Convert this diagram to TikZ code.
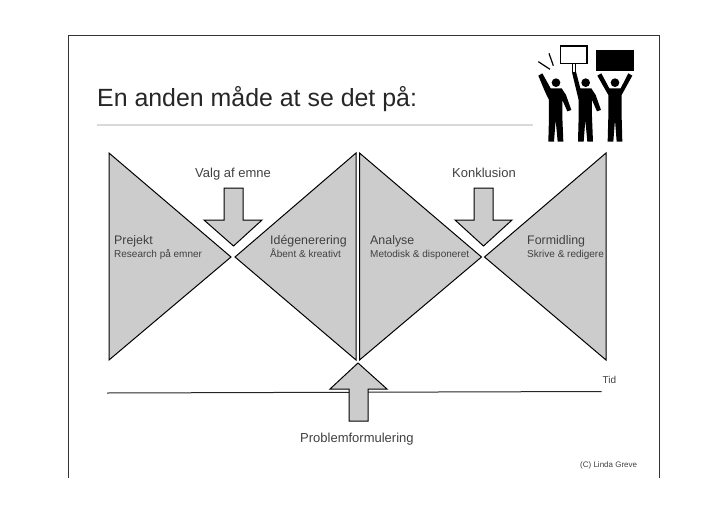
\documentclass[tikz,border=0pt]{standalone}
\usepackage{fontspec}
\setmainfont{Liberation Sans}
\tikzset{
  wedge/.style={draw=black,fill=black!20,line width=1pt,line join=miter},
  pil/.style={draw=black,fill=black!20,line width=1pt,line join=miter},
  txt/.style={anchor=base west,inner sep=0pt,text=black!75},
  stor/.style={txt,font=\fontsize{13}{15}\selectfont},
  mellem/.style={txt,font=\fontsize{12.4}{15}\selectfont},
  lille/.style={txt,font=\fontsize{10}{12}\selectfont},
  mand/.style={fill=black,draw=none}
}
\begin{document}
\begin{tikzpicture}[x=1pt,y=-1pt]
\useasboundingbox (0,0) rectangle (728,514);
\draw[line width=0.9pt,black!80] (68.5,478) -- (68.5,35) -- (659,35) -- (659,478);
\node[txt,font=\fontsize{24.9}{28}\selectfont,text=black!85] (titel) at (97,106) {En anden måde at se det på:};
\draw[line width=1.2pt,black!15] (97,125) -- (533,125);

\draw[wedge] (109,153) -- (231,257) -- (109,360) -- cycle;
\draw[wedge] (356,153) -- (235,257) -- (356,360) -- cycle;
\draw[wedge] (359.5,153) -- (481.5,257) -- (359.5,360) -- cycle;
\draw[wedge] (606,153) -- (484.5,257) -- (606,360) -- cycle;

\draw[pil] (224,188) -- (243,188) -- (243,220) -- (262,220) -- (233.5,246) -- (204,220) -- (224,220) -- cycle;
\draw[pil] (474,188) -- (493,188) -- (493,220) -- (512,220) -- (483.5,246) -- (455,220) -- (474,220) -- cycle;
\draw[line width=1pt,black!85] (107,393) -- (601.5,391.5);
\draw[pil] (349,421) -- (368,421) -- (368,389) -- (387,389) -- (358,363) -- (330,389) -- (349,389) -- cycle;

\node[stor] (valg) at (195,177) {Valg af emne};
\node[stor] (konklusion) at (452,177) {Konklusion};
\node[stor] (problem) at (300,442) {Problemformulering};
\node[mellem] (prejekt) at (114,244) {Prejekt};
\node[lille] (research) at (114,257) {Research på emner};
\node[mellem] (ide) at (270,244) {Idégenerering};
\node[lille] (aabent) at (270,257) {Åbent \& kreativt};
\node[mellem] (analyse) at (370,244) {Analyse};
\node[lille] (metodisk) at (370,257) {Metodisk \& disponeret};
\node[mellem] (formidling) at (527,244) {Formidling};
\node[lille] (skrive) at (527,257) {Skrive \& redigere};
\node[lille] (tid) at (602.5,383) {Tid};
\node[txt,font=\fontsize{8}{10}\selectfont] (copy) at (580,467) {(C) Linda Greve};

\begin{scope}[shift={(480,20)},x=0.3333pt,y=-0.3333pt]
\fill[mand] (228,188) circle (13);
\fill[mand] (175,167) -- (187,160) -- (212,205) -- (245,205) -- (258,225) -- (274,270) -- (262,274) -- (247,240) -- (247,290) -- (250,365) -- (233,365) -- (227,300) -- (222,365) -- (205,365) -- (207,290) -- (207,240) -- (195,215) -- cycle;
\draw[line width=1.2pt,line cap=butt] (175,125) -- (210,148);
\draw[line width=1.2pt] (207,100) -- (220,137);
\fill[mand] (317,188) circle (13);
\fill[mand] (276,157) -- (288,155) -- (301,205) -- (334,205) -- (347,225) -- (363,270) -- (351,274) -- (336,240) -- (336,290) -- (339,365) -- (322,365) -- (316,300) -- (311,365) -- (294,365) -- (296,290) -- (296,240) -- cycle;
\draw[line width=1.2pt,fill=white] (242,78) rectangle (321,130);
\draw[line width=0.9pt] (278,130) -- (278,155);
\draw[line width=0.9pt] (286,130) -- (286,155);
\fill[mand] (405,188) circle (13);
\fill[mand] (352,167) -- (364,160) -- (388,205) -- (422,205) -- (445,160) -- (457,167) -- (425,225) -- (425,290) -- (427,365) -- (410,365) -- (405,300) -- (400,365) -- (383,365) -- (385,290) -- (385,225) -- cycle;
\fill[mand] (349,91) rectangle (461,152);
\end{scope}
\end{tikzpicture}
\end{document}
